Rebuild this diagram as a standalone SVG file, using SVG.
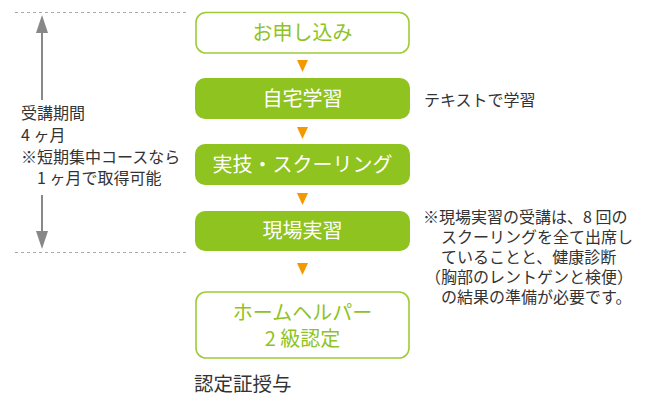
<svg xmlns="http://www.w3.org/2000/svg" width="650" height="419" viewBox="0 0 650 419">
<style>
text{font-family:"Noto Sans CJK JP","Noto Sans",sans-serif;}
.box{fill:#8fc31f;}
.obox{fill:#fff;stroke:#9fcb3a;stroke-width:1.6;}
.bt{font-size:20px;fill:#fff;text-anchor:middle;}
.gt{font-size:20px;fill:#8fc31f;text-anchor:middle;}
.tri{fill:#f39800;}
.note{font-size:16px;fill:#333;}
.dash{stroke:#aaa;stroke-width:1;stroke-dasharray:3 3;fill:none;}
.garr{stroke:#888;stroke-width:2;fill:none;}
.ghead{fill:#888;}
</style>
<rect width="650" height="419" fill="#fff"/>
<g id="period">
<line class="dash" x1="15" y1="12.5" x2="188" y2="12.5"/>
<line class="dash" x1="15" y1="252.5" x2="188" y2="252.5"/>
<line class="garr" x1="42" y1="30" x2="42" y2="100"/>
<polygon class="ghead" points="42,15 36,33 48,33"/>
<line class="garr" x1="42" y1="195" x2="42" y2="234"/>
<polygon class="ghead" points="42,249 36,231 48,231"/>
<text class="note" x="21" y="119">受講期間</text>
<text class="note" x="21" y="141">4 ヶ月</text>
<text class="note" x="21" y="163">※短期集中コースなら</text>
<text class="note" x="37" y="184">1 ヶ月で取得可能</text>
</g>
<g id="connectors">
<polygon class="tri" points="297,60 308,60 302.5,72"/>
<polygon class="tri" points="297,127 308,127 302.5,139"/>
<polygon class="tri" points="297,193 308,193 302.5,205"/>
<polygon class="tri" points="297,263 308,263 302.5,275"/>
</g>
<g id="n1">
<rect class="obox" x="196" y="12.5" width="213" height="40.5" rx="10"/>
<text class="gt" x="302.5" y="40">お申し込み</text>
</g>
<g id="n2">
<rect class="box" x="195" y="78" width="215" height="41" rx="10"/>
<text class="bt" x="302.5" y="106">自宅学習</text>
</g>
<g id="n3">
<rect class="box" x="195" y="144" width="215" height="41" rx="10"/>
<text class="bt" x="302.5" y="172">実技・スクーリング</text>
</g>
<g id="n4">
<rect class="box" x="195" y="211" width="215" height="40" rx="10"/>
<text class="bt" x="302.5" y="238">現場実習</text>
</g>
<g id="n5">
<rect class="obox" x="196" y="292" width="213" height="66" rx="10"/>
<text class="gt" x="302.5" y="320">ホームヘルパー</text>
<text class="gt" x="302.5" y="346">2 級認定</text>
</g>
<text x="194" y="391" style="font-size:19.5px;fill:#333;">認定証授与</text>
<text class="note" x="424" y="106">テキストで学習</text>
<g id="note">
<text class="note" x="423" y="223">※現場実習の受講は、8 回の</text>
<text class="note" x="441" y="243">スクーリングを全て出席し</text>
<text class="note" x="441" y="263">ていることと、健康診断</text>
<text class="note" x="425" y="283">（胸部のレントゲンと検便）</text>
<text class="note" x="441" y="303">の結果の準備が必要です。</text>
</g>
</svg>
